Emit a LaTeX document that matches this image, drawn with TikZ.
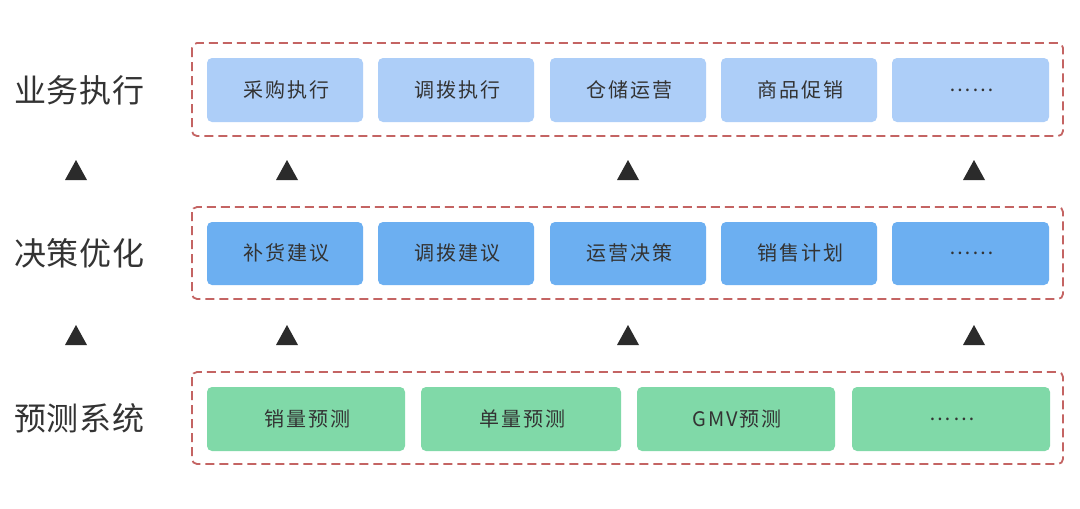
\documentclass[tikz,border=0pt]{standalone}
\usepackage{fontspec}
\setmainfont{Noto Sans CJK SC}
\begin{document}
\begin{tikzpicture}[x=1pt,y=-1pt,
  frame/.style={draw=dashred,line width=1.8pt,dash pattern=on 9pt off 5pt,rounded corners=5pt},
  cell/.style={rounded corners=5pt,draw=none,inner sep=0pt,font=\fontsize{20}{24}\selectfont\addfontfeature{LetterSpace=10},text=txt},
  rowlabel/.style={font=\fontsize{32}{38}\selectfont\addfontfeature{LetterSpace=2},text=txt,anchor=west,inner sep=0pt},
  tri/.style={fill=tricol}]
\definecolor{dashred}{HTML}{C46463}
\definecolor{txt}{HTML}{333333}
\definecolor{tricol}{HTML}{2B2B2B}
\definecolor{rowa}{HTML}{ADCEF8}
\definecolor{rowb}{HTML}{6CAFF1}
\definecolor{rowc}{HTML}{80D9A8}
\useasboundingbox[fill=white] (0,0) rectangle (1080,509);
% labels
\node[rowlabel] (l1) at (14,90) {业务执行};
\node[rowlabel] (l2) at (14,253) {决策优化};
\node[rowlabel] (l3) at (14,418) {预测系统};
% frames
\draw[frame] (192,43) rectangle (1063,136);
\draw[frame] (192,207) rectangle (1063,299);
\draw[frame] (192,372) rectangle (1063,464);
% row 1
\foreach \a/\b/\t [count=\i] in {207/363/采购执行,378/534/调拨执行,550/706/仓储运营,721/877/商品促销,892/1049/……}{
  \path[fill=rowa,rounded corners=5pt] (\a,58) rectangle (\b,122);
  \node[cell] (a\i) at ({(\a+\b)/2+1},90) {\t};
}
% row 2
\foreach \a/\b/\t [count=\i] in {207/363/补货建议,378/534/调拨建议,550/706/运营决策,721/877/销售计划,892/1049/……}{
  \path[fill=rowb,rounded corners=5pt] (\a,222) rectangle (\b,285);
  \node[cell] (b\i) at ({(\a+\b)/2+1},253) {\t};
}
% row 3
\foreach \a/\b/\t [count=\i] in {207/405/销量预测,421/621/单量预测,637/835/GMV预测,852/1050/……}{
  \path[fill=rowc,rounded corners=5pt] (\a,387) rectangle (\b,451);
  \node[cell] (c\i) at ({(\a+\b)/2+1},419) {\t};
}
% triangles
\foreach \x in {76,287,628,974}{
  \fill[tri] (\x-11,180) -- (\x+11,180) -- (\x,160) -- cycle;
  \fill[tri] (\x-11,345) -- (\x+11,345) -- (\x,325) -- cycle;
}
\end{tikzpicture}
\end{document}
